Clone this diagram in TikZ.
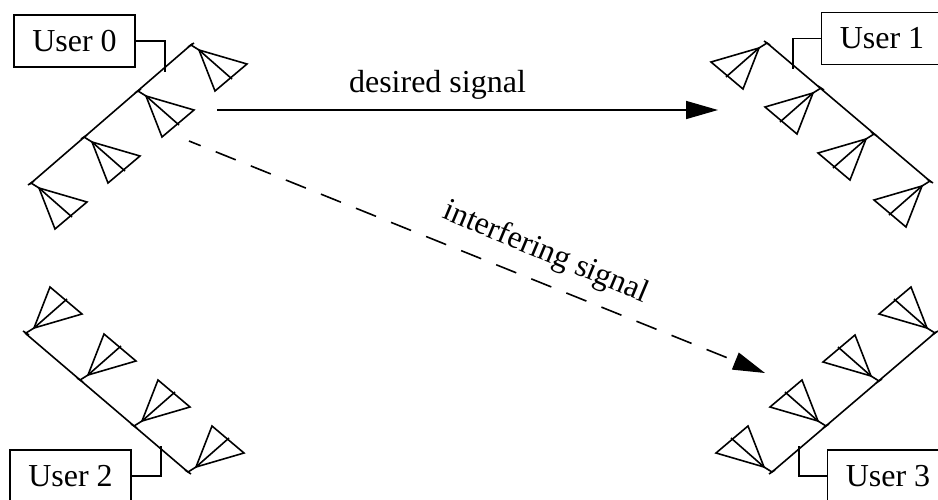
\documentclass[tikz,border=0pt]{standalone}
\usepackage{fontspec}
\setmainfont{Liberation Serif}
\usetikzlibrary{arrows.meta}
\tikzset{
    userbox/.style={draw, line width=0.8pt, minimum width=60.5pt, minimum height=26pt, inner sep=0pt},
    wire/.style={line width=0.8pt},
    bighead/.style={-{Triangle[length=16pt, width=9pt]}, line width=0.8pt},
    antenna/.pic={
        \draw[wire] (-3,2) -- (3,-2);
        \draw[wire] (0,0) -- (8,5);
        \draw[wire] (8,5) -- (56,19) -- (24,46) -- cycle;
        \draw[wire] (8,5) -- (41,34);
    }
}
\begin{document}
\begin{tikzpicture}[x=0.5pt, y=-0.5pt, every node/.style={font=\fontsize{16}{18}\selectfont}]
    \useasboundingbox (0,0) rectangle (938,499);
    % Users
    \node[userbox] (user0) at (74.5,41) {User 0};
    \node[userbox] (user1) at (882,38.5) {User 1};
    \node[userbox] (user2) at (70.5,476) {User 2};
    \node[userbox] (user3) at (888,476) {User 3};
    % Feed points on the bars
    \coordinate (tap0) at (165,72);
    \coordinate (tap1) at (793,69);
    \coordinate (tap2) at (161,446);
    \coordinate (tap3) at (799,446);
    \draw[wire] (user0.east) -| (tap0);
    \draw[wire] (user1.west) -| (tap1);
    \draw[wire] (user2.east) -| (tap2);
    \draw[wire] (user3.west) -| (tap3);
    % Bars
    \coordinate (bar0a) at (30,184);
    \coordinate (bar0b) at (192,44);
    \coordinate (bar1a) at (767,43);
    \coordinate (bar1b) at (931,182);
    \coordinate (bar2a) at (25,333);
    \coordinate (bar2b) at (188,472);
    \coordinate (bar3a) at (772,472);
    \coordinate (bar3b) at (936,332);
    \draw[wire] (bar0a) -- (bar0b);
    \draw[wire] (bar1a) -- (bar1b);
    \draw[wire] (bar2a) -- (bar2b);
    \draw[wire] (bar3a) -- (bar3b);
    % Antennas
    \foreach \x/\y in {31/183,84/137,138/91,191/45} {
        \pic at (\x,\y) {antenna};
    }
    \foreach \x/\y in {767/43,821/88,874/134,930/181} {
        \pic[xscale=-1] at (\x,\y) {antenna};
    }
    \foreach \x/\y in {26/333,80/380,134/426,188/472} {
        \pic[yscale=-1] at (\x,\y) {antenna};
    }
    \foreach \x/\y in {772/472,826/426,879/381,935/333} {
        \pic[xscale=-1,yscale=-1] at (\x,\y) {antenna};
    }
    % Signals
    \coordinate (txa) at (217,110);
    \coordinate (rxa) at (718,110);
    \coordinate (txb) at (189,141);
    \coordinate (rxb) at (765,373);
    \draw[bighead] (txa) -- (rxa);
    \draw[bighead, dash pattern=on 10.8pt off 8.1pt, dash phase=4.5pt] (txb) -- (rxb);
    \node (desired) at (437.5,85) {desired signal};
    \node[rotate=-22.7] (interfering) at (545.5,253) {interfering signal};
\end{tikzpicture}
\end{document}
